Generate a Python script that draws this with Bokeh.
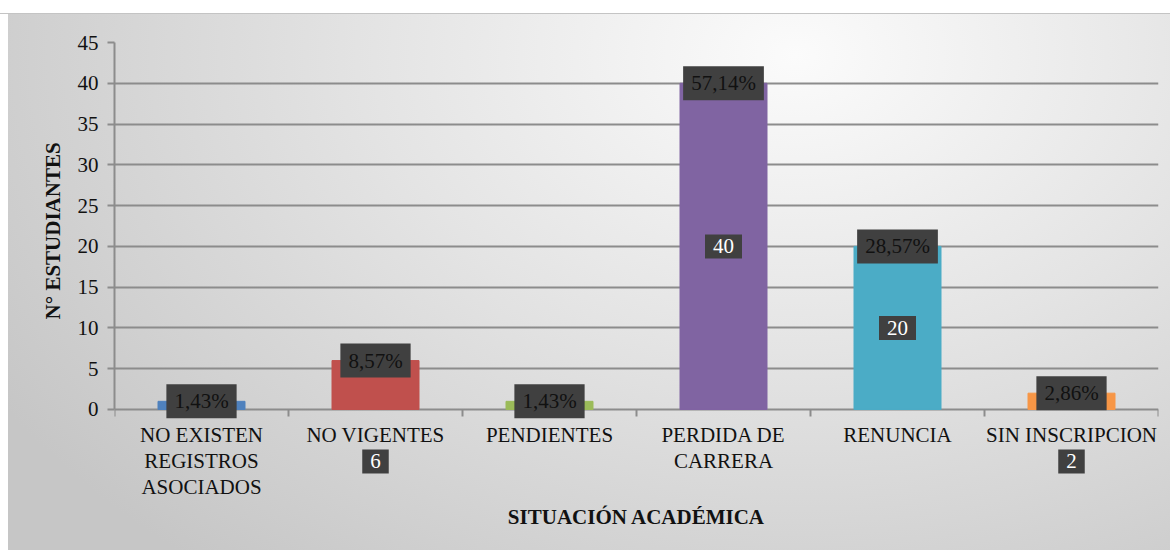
from bokeh.plotting import figure
from bokeh.models import ColumnDataSource, Range1d, FixedTicker
from bokeh.core.properties import value
from bokeh.embed import file_html
from bokeh.resources import INLINE

# ---- data ----
categories = ["NO EXISTEN\nREGISTROS\nASOCIADOS", "NO VIGENTES", "PENDIENTES",
              "PERDIDA DE\nCARRERA", "RENUNCIA", "SIN INSCRIPCION"]
values = [1, 6, 1, 40, 20, 2]
percent_labels = ["1,43%", "8,57%", "1,43%", "57,14%", "28,57%", "2,86%"]
bar_colors = ["#4F81BD", "#C0504D", "#9BBB59", "#8064A2", "#4BACC6", "#F79646"]
y_ticks = [0, 5, 10, 15, 20, 25, 30, 35, 40, 45]
x_title = "SITUACIÓN ACADÉMICA"
y_title = "N° ESTUDIANTES"

FONT = "Liberation Serif"
GRID = "#8c8c8c"
TXT = "#111111"
FS = "21px"
Y_MAX = 45
Y_MIN = -17.29          # frame extends below the axis to hold the category labels
PX = (550 - 42) / (Y_MAX - Y_MIN)   # pixels per unit

def below(px):
    """data y for a distance (in px) below the zero line"""
    return -px / PX

n = len(categories)
centers = [i + 0.5 for i in range(n)]
bounds = list(range(n + 1))

p = figure(width=1170, height=550, output_backend="svg", toolbar_location=None,
           x_range=Range1d(0, n), y_range=Range1d(Y_MIN, Y_MAX),
           x_axis_location=None,
           min_border_left=114, min_border_right=12, min_border_top=42,
           min_border_bottom=0)
p.background_fill_alpha = 0
p.border_fill_alpha = 0
p.outline_line_color = None
p.styles = {"background": (
    "linear-gradient(to bottom, #ffffff 0px, #ffffff 13px, #c4c4c4 13px, #c4c4c4 14px, transparent 14px), "
    "linear-gradient(to right, #ffffff 0px, #ffffff 8px, transparent 8px), "
    "radial-gradient(ellipse 80% 120% at 68% 10%, #fbfbfb 0%, #e4e4e4 45%, #c6c6c6 100%)")}

src = ColumnDataSource(dict(x=centers, top=values, color=bar_colors,
                            pct=percent_labels, val=[str(v) for v in values]))
p.vbar(x="x", top="top", bottom=0, width=0.5, color="color", source=src)

# y axis (bounded to 0..45) and grid
p.xgrid.grid_line_color = None
p.ygrid.grid_line_color = GRID
p.ygrid.grid_line_width = 2
p.ygrid.ticker = FixedTicker(ticks=y_ticks)
p.yaxis.ticker = FixedTicker(ticks=y_ticks)
p.yaxis.bounds = (0, Y_MAX)
p.yaxis.axis_line_color = GRID
p.yaxis.axis_line_width = 2
p.yaxis.major_tick_line_color = GRID
p.yaxis.major_tick_line_width = 2
p.yaxis.major_tick_out = 7
p.yaxis.major_tick_in = 0
p.yaxis.minor_tick_line_color = None
p.yaxis.major_label_text_font = FONT
p.yaxis.major_label_text_font_size = FS
p.yaxis.major_label_text_color = TXT
p.yaxis.major_label_standoff = 9
# the title is centred on the frame; leading no-break spaces lift it to the 0..45 span
p.yaxis.axis_label = "\u00a0" * 25 + y_title
p.yaxis.axis_label_text_font = FONT
p.yaxis.axis_label_text_font_style = "bold"
p.yaxis.axis_label_text_font_size = FS
p.yaxis.axis_label_text_color = TXT
p.yaxis.axis_label_standoff = 10

# category axis drawn inside the extended frame
p.segment(x0=bounds, y0=[0] * len(bounds), x1=bounds, y1=[below(7)] * len(bounds),
          line_color=GRID, line_width=2)
p.text(x=centers, y=[below(14)] * n, text=categories, text_font=value(FONT),
       text_font_size=FS, text_color=TXT, text_align="center",
       text_baseline="top", text_line_height=1.07)
p.text(x=[n / 2], y=[below(108)], text=[x_title], text_font=value(FONT),
       text_font_size=FS, text_font_style="bold", text_color=TXT,
       text_align="center", text_baseline="middle")

# value labels: inside bar (middle) or below the category label for small bars
vx, vy, vt = [], [], []
for c, v in zip(centers, values):
    vx.append(c)
    vt.append(str(v))
    vy.append(v / 2 if (v >= 10 or v <= 1) else below(52))

box = dict(text_font=value(FONT), text_font_size=FS, text_align="center",
           text_baseline="middle", background_fill_color="#404040",
           padding=dict(x=8, y=5))
p.text(x="x", y="y", text="t", text_color="white",
       source=ColumnDataSource(dict(x=vx, y=vy, t=vt)), **box)
p.text(x="x", y="top", text="pct", text_color=TXT, source=src, **box)

open("out.html", "w").write(file_html(p, INLINE))
